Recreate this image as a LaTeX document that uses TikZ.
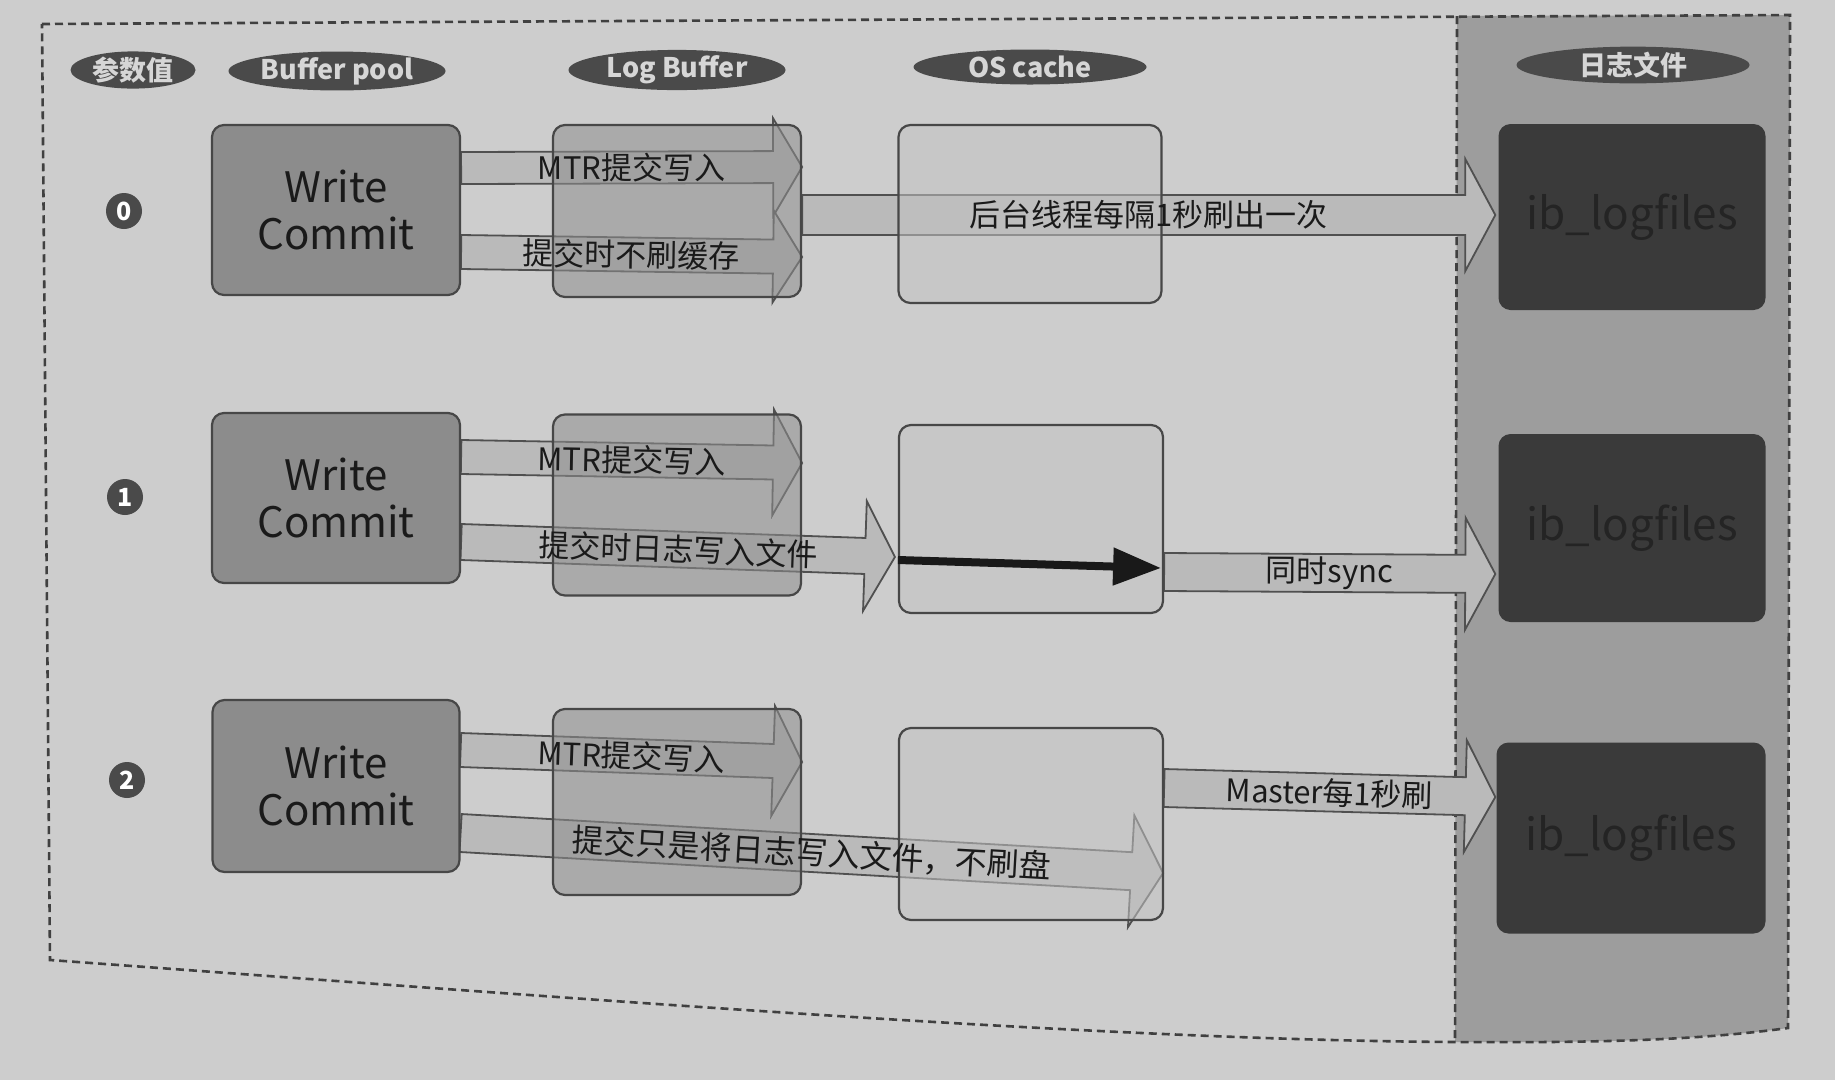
\documentclass[tikz,border=0pt]{standalone}
\usepackage{fontspec}
\setmainfont{Noto Sans CJK SC}
\usetikzlibrary{calc,shapes.geometric,arrows.meta}
\definecolor{bgc}{HTML}{CDCDCD}
\definecolor{colc}{HTML}{9D9D9D}
\definecolor{hdrc}{HTML}{4A4A4A}
\definecolor{hdrtxt}{HTML}{D6D6D6}
\definecolor{edgec}{HTML}{474747}
\definecolor{wcfill}{HTML}{8C8C8C}
\definecolor{lbfill}{HTML}{8E8E8E}
\definecolor{osfill}{HTML}{C3C3C3}
\definecolor{ibfill}{HTML}{3A3A3A}
\definecolor{ibtxt}{HTML}{242424}
\definecolor{arrfill}{HTML}{BABABA}
\definecolor{arredge}{HTML}{505050}
\definecolor{txtc}{HTML}{1A1A1A}
\definecolor{dashc}{HTML}{404040}
\pgfdeclarelayer{bgl}
\pgfdeclarelayer{arr}
\pgfdeclarelayer{front}
\pgfsetlayers{bgl,arr,main,front}
\newcommand{\fatarrow}[7][]{%
  \coordinate (fab) at ($(#3)!#6pt!(#2)$);
  \begin{pgfonlayer}{arr}
  \draw[fatarr] ($(#2)!#4pt!90:(#3)$) -- ($(fab)!#4pt!90:(#3)$) -- ($(fab)!#5pt!90:(#3)$) -- (#3) -- ($(fab)!#5pt!-90:(#3)$) -- ($(fab)!#4pt!-90:(#3)$) -- ($(#2)!#4pt!-90:(#3)$) -- cycle;
  \end{pgfonlayer}
  \begin{pgfonlayer}{front}
  \path (#2) -- (#3) node[midway, sloped, lbl, #1] {#7};
  \end{pgfonlayer}
}
\begin{document}
\begin{tikzpicture}[x=1pt,y=-1pt,
  hdr/.style={ellipse, fill=hdrc, text=hdrtxt, inner sep=0pt, font=\fontsize{27}{29}\selectfont\bfseries},
  wcbox/.style={rectangle, rounded corners=12pt, draw=edgec, line width=2.2pt, fill=wcfill, text=txtc, align=center, inner sep=0pt, font=\fontsize{42}{47}\selectfont},
  lbbox/.style={rectangle, rounded corners=12pt, draw=edgec, line width=2.2pt, fill=lbfill, fill opacity=0.55, text opacity=1, inner sep=0pt},
  osbox/.style={rectangle, rounded corners=12pt, draw=edgec, line width=2.2pt, fill=osfill, fill opacity=0.55, inner sep=0pt},
  ibbox/.style={rectangle, rounded corners=12pt, fill=ibfill, text=ibtxt, inner sep=0pt, font=\fontsize{44}{46}\selectfont},
  fatarr/.style={fill=arrfill, draw=arredge, line width=1.8pt, line join=miter},
  lbl/.style={text=txtc, inner sep=0pt, font=\fontsize{31}{33}\selectfont},
  numc/.style={circle, fill=hdrc, text=white, minimum size=36pt, inner sep=0pt, font=\fontsize{25}{25}\selectfont\bfseries},
  border/.style={draw=dashc, line width=2.6pt, dash pattern=on 8pt off 5pt}
]
\useasboundingbox (0,0) rectangle (1835,1080);
\begin{pgfonlayer}{bgl}
\fill[bgc] (0,0) rectangle (1835,1080);
\fill[colc] (1457,16) -- (1790,15) -- (1788,1028) .. controls (1700,1040) and (1600,1043) .. (1455,1042) -- cycle;
\draw[border] (42,24) -- (1790,15) -- (1788,1028) .. controls (1700,1040) and (1600,1043) .. (1455,1042) .. controls (1100,1040) and (600,1000) .. (50,960) -- cycle;
\draw[border] (1457,16) -- (1455,1042);
\end{pgfonlayer}

% headers
\node[hdr, minimum width=125pt, minimum height=34pt] (h0) at (133,70) {参数值};
\node[hdr, minimum width=217pt, minimum height=34pt] (h1) at (337,71) {Buffer pool};
\node[hdr, minimum width=217pt, minimum height=34pt] (h2) at (677,70) {Log Buffer};
\node[hdr, minimum width=233pt, minimum height=35pt] (h3) at (1030,67) {OS cache};
\node[hdr, minimum width=233pt, minimum height=36pt] (h4) at (1633,65) {日志文件};

% row numbers
\node[numc] (n0) at (124,211) {0};
\node[numc] (n1) at (125,497) {1};
\node[numc] (n2) at (127,780) {2};

% row 0
\node[wcbox, minimum width=248pt, minimum height=170pt] (wc0) at (336,210) {Write\\Commit};
\node[lbbox, minimum width=248pt, minimum height=172pt] (lb0) at (677,211) {};
\node[osbox, minimum width=263pt, minimum height=178pt] (os0) at (1030,214) {};
\node[ibbox, minimum width=267pt, minimum height=186pt] (ib0) at (1632,217) {ib\_logfiles};
% row 1
\node[wcbox, minimum width=248pt, minimum height=170pt] (wc1) at (336,498) {Write\\Commit};
\node[lbbox, minimum width=248pt, minimum height=181pt] (lb1) at (677,505) {};
\node[osbox, minimum width=264pt, minimum height=188pt] (os1) at (1031,519) {};
\node[ibbox, minimum width=267pt, minimum height=188pt] (ib1) at (1632,528) {ib\_logfiles};
% row 2
\node[wcbox, minimum width=247pt, minimum height=172pt] (wc2) at (336,786) {Write\\Commit};
\node[lbbox, minimum width=248pt, minimum height=186pt] (lb2) at (677,802) {};
\node[osbox, minimum width=264pt, minimum height=192pt] (os2) at (1031,824) {};
\node[ibbox, minimum width=269pt, minimum height=191pt] (ib2) at (1631,838) {ib\_logfiles};

% arrow end points
\coordinate (s01) at ($(wc0.east)+(0,-42)$);
\coordinate (t01) at ($(lb0.east)+(0,-44)$);
\coordinate (s02) at ($(wc0.east)+(0,42)$);
\coordinate (t02) at ($(lb0.east)+(0,46)$);
\coordinate (s03) at ($(lb0.east)+(0,4)$);
\coordinate (t03) at ($(ib0.west)+(-3,-2)$);
\coordinate (s11) at ($(wc1.east)+(0,-41)$);
\coordinate (t11) at ($(lb1.east)+(0,-42)$);
\coordinate (s12) at ($(wc1.east)+(0,44)$);
\coordinate (t12) at ($(os1.west)+(-3,38)$);
\coordinate (b1s) at ($(os1.west)+(0,41)$);
\coordinate (b1t) at ($(os1.east)+(-3,49)$);
\coordinate (s13) at ($(os1.east)+(0,53)$);
\coordinate (t13) at ($(ib1.west)+(-3,46)$);
\coordinate (s21) at ($(wc2.east)+(0,-36)$);
\coordinate (t21) at ($(lb2.east)+(0,-40)$);
\coordinate (s22) at ($(wc2.east)+(0,47)$);
\coordinate (t22) at ($(os2.east)+(-1,49)$);
\coordinate (s23) at ($(os2.east)+(0,-36)$);
\coordinate (t23) at ($(ib2.west)+(-1,-41)$);

\fatarrow{s01}{t01}{16}{49}{29}{MTR提交写入}
\fatarrow{s02}{t02}{17}{46}{29}{提交时不刷缓存}
\fatarrow{s03}{t03}{20}{56}{30}{后台线程每隔1秒刷出一次}
\fatarrow{s11}{t11}{17}{53}{29}{MTR提交写入}
\fatarrow{s12}{t12}{18}{55}{30}{提交时日志写入文件}
\fatarrow{s13}{t13}{19}{56}{30}{同时sync}
\fatarrow{s21}{t21}{17}{55}{29}{MTR提交写入}
\fatarrow[font=\fontsize{32}{34}\selectfont]{s22}{t22}{19}{56}{32}{提交只是将日志写入文件，不刷盘}
\fatarrow{s23}{t23}{19}{56}{30}{Master每1秒刷}

\begin{pgfonlayer}{front}
\draw[line width=8pt, color=black!90, -{Triangle[length=48pt,width=36pt]}] (b1s) -- (b1t);
\end{pgfonlayer}
\end{tikzpicture}
\end{document}
